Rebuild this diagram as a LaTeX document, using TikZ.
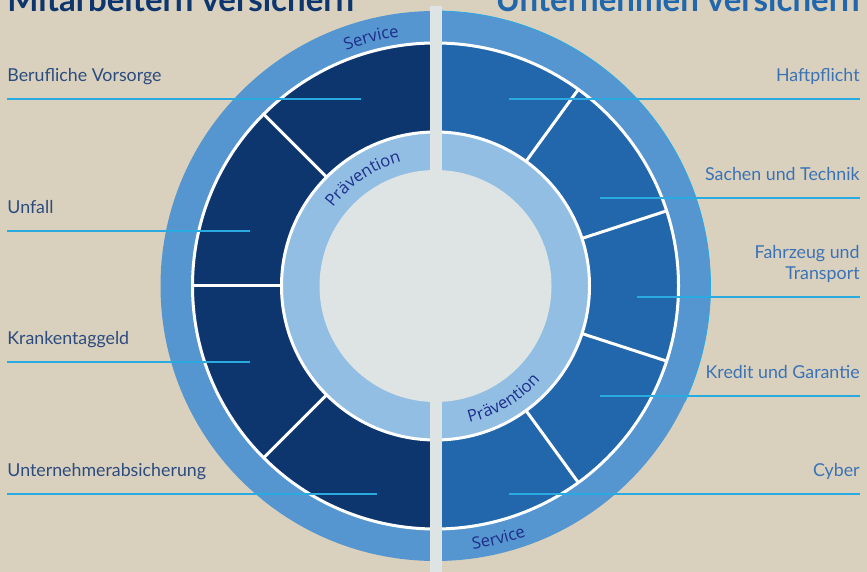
\documentclass[tikz,border=0pt]{standalone}
\usepackage{fontspec}
\setmainfont{Lato}
\newfontfamily\arcfont{Open Sans}
\usetikzlibrary{decorations.text}

\definecolor{sand}{HTML}{D9D1BD}
\definecolor{navy}{HTML}{0D366E}
\definecolor{midblue}{HTML}{2266AB}
\definecolor{service}{HTML}{5595D0}
\definecolor{praev}{HTML}{92BEE3}
\definecolor{core}{HTML}{DEE3E3}
\definecolor{leadcyan}{HTML}{29ABE2}
\definecolor{lblleft}{HTML}{2C4B7F}
\definecolor{lblright}{HTML}{3B72B6}
\definecolor{arctxt}{HTML}{1E2E8A}

\newcommand{\arcstyle}{\arcfont\fontsize{8.3}{9}\selectfont\color{arctxt}}

\begin{document}
\begin{tikzpicture}[x=0.5pt,y=0.5pt,
    lbl/.style={inner sep=0pt, font=\fontsize{8.9}{10.5}\selectfont},
    leader/.style={draw=leadcyan, line width=0.9pt},
    sep/.style={draw=white, line width=1.5pt}]
        \clip (0,0) rectangle (867,572);
        \fill[sand] (0,0) rectangle (867,572);

        \coordinate (c) at (435.5,286);

        % rings and segments
        \fill[service] (c) circle[radius=275];
        \draw[leadcyan, line width=0.4pt] (c) ++(90:275) arc[start angle=90, end angle=-25, radius=275];
        \foreach \a in {90,135,180,225}
            \fill[navy] (c) -- ++(\a:243) arc[start angle=\a, delta angle=45, radius=243] -- cycle;
        \foreach \a in {-90,-54,-18,18,54}
            \fill[midblue] (c) -- ++(\a:243) arc[start angle=\a, delta angle=36, radius=243] -- cycle;
        \foreach \a in {135,180,225,54,18,-18,-54}
            \draw[sep] (c) ++(\a:154) -- +(\a:89);
        \draw[sep] (c) circle[radius=243];
        \fill[praev] (c) circle[radius=154];
        \draw[sep] (c) circle[radius=154];
        \fill[core] (c) circle[radius=116];
        \fill[core] (430,0) rectangle (442,566);

        % ring texts
        \path[decorate, decoration={text along path, text align=center, text={|\arcstyle|Service}}]
            (c) ++(120:252) arc[start angle=120, end angle=89, radius=252];
        \path[decorate, decoration={text along path, text align=center, text={|\arcstyle|Service}}]
            (c) ++(-92:266) arc[start angle=-92, end angle=-60, radius=266];
        \path[decorate, decoration={text along path, text align=center, text={|\arcstyle|Prävention}}]
            (c) ++(152:129) arc[start angle=152, end angle=96, radius=129];
        \path[decorate, decoration={text along path, text align=center, text={|\arcstyle|Prävention}}]
            (c) ++(-88:141) arc[start angle=-88, end angle=-30, radius=141];

        % titles
        \node[anchor=base west, inner sep=0pt, text=navy, font=\fontsize{16.5}{18}\selectfont\bfseries] (t-left) at (7,560) {Mitarbeitern versichern};
        \node[anchor=base east, inner sep=0pt, text=midblue, font=\fontsize{16.5}{18}\selectfont\bfseries] (t-right) at (860,560) {Unternehmen versichern};

        % left labels
        \begin{scope}[every node/.style={lbl, text=lblleft, anchor=base west}]
        \node (bv) at (7,490) {Berufliche Vorsorge};
        \node (uf) at (7,358) {Unfall};
        \node (kt) at (7,227) {Krankentaggeld};
        \node (ua) at (7,95) {Unternehmerabsicherung};
        \end{scope}
        \coordinate (bv-end) at (361,473);
        \coordinate (uf-end) at (250,341);
        \coordinate (kt-end) at (250,210);
        \coordinate (ua-end) at (377,78);
        \foreach \n in {bv,uf,kt,ua}
            \draw[leader] (\n.base west |- \n-end) -- (\n-end);

        % right labels
        \begin{scope}[every node/.style={lbl, text=lblright, anchor=base east, align=right}]
        \node (hp) at (860,490) {Haftpflicht};
        \node (st) at (860,391) {Sachen und Technik};
        \node (ft) at (860,292) {Fahrzeug und\\Transport};
        \node (kg) at (860,193) {Kredit und Garantie};
        \node (cy) at (860,95) {Cyber};
        \end{scope}
        \coordinate (hp-start) at (509,473);
        \coordinate (st-start) at (600,374);
        \coordinate (ft-start) at (637,275);
        \coordinate (kg-start) at (600,176);
        \coordinate (cy-start) at (509,78);
        \foreach \n in {hp,st,ft,kg,cy}
            \draw[leader] (\n-start) -- (\n.base east |- \n-start);
    \end{tikzpicture}
\end{document}
